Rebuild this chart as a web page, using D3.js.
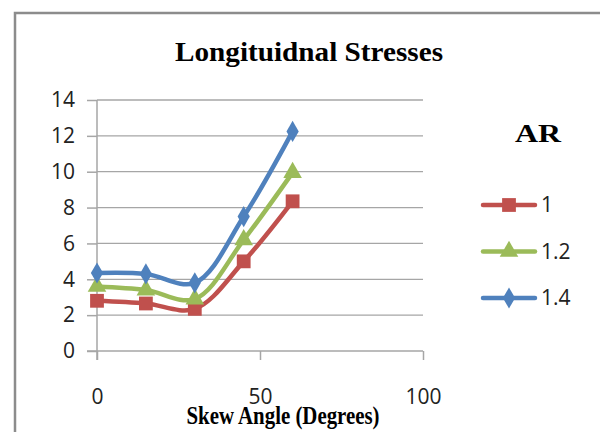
<!DOCTYPE html>
<html>
<head>
<meta charset="utf-8">
<script src="https://cdn.jsdelivr.net/npm/d3@7"></script>
<style>
body { margin: 0; background: #fff; }
svg { display: block; }
</style>
</head>
<body>
<svg id="chart" width="600" height="432"></svg>
<script>
// données
const angles = [0, 15, 30, 45, 60];
const ar1 = [2.8, 2.65, 2.35, 5.0, 8.35];
const ar12 = [3.6, 3.4, 2.9, 6.2, 9.95];
const ar14 = [4.35, 4.3, 3.8, 7.5, 12.25];
const xTicks = [0, 50, 100];
const yTicks = [0, 2, 4, 6, 8, 10, 12, 14];
const series = [
	{name: "1", values: ar1, color: "#C0504D", symbol: d3.symbolSquare, size: 190},
	{name: "1.2", values: ar12, color: "#9BBB59", symbol: d3.symbolTriangle, size: 150},
	{name: "1.4", values: ar14, color: "#4F81BD", symbol: d3.symbolDiamond, size: 130}
];

let svg = d3.select("#chart");
let margin = {left: 97, right: 177, top: 100, bottom: 81};
let x = d3.scaleLinear().domain([0, 100]).range([margin.left, 600 - margin.right]);
let y = d3.scaleLinear().domain([0, 14]).range([432 - margin.bottom, margin.top]);

// cadre
svg.append("path")
	.attr("d", "M15,440 V13 H610")
	.attr("fill", "none")
	.attr("stroke", "#8c8c8c")
	.attr("stroke-width", 2.5);

// titre
svg.append("text")
	.attr("x", 309).attr("y", 61)
	.attr("text-anchor", "middle")
	.attr("font-family", "Liberation Serif")
	.attr("font-weight", "bold")
	.attr("font-size", 27)
	.attr("textLength", 268)
	.attr("lengthAdjust", "spacingAndGlyphs")
	.text("Longituidnal Stresses");

// grille
svg.append("g")
	.selectAll("line")
	.data(yTicks.filter(d => d > 0))
	.join("line")
	.attr("x1", x(0)).attr("x2", x(100))
	.attr("y1", d => y(d)).attr("y2", d => y(d))
	.attr("stroke", "#a6a6a6")
	.attr("stroke-width", 1.3);

// axes
let ay = svg.append("g")
	.attr("transform", `translate(${x(0)},0)`)
	.call(d3.axisLeft(y).tickValues(yTicks).tickSize(10).tickPadding(12));
let ax = svg.append("g")
	.attr("transform", `translate(0,${y(0)})`)
	.call(d3.axisBottom(x).tickValues(xTicks).tickSize(9).tickPadding(29));
for (let a of [ax, ay]) {
	a.select(".domain").attr("stroke", "#a6a6a6").attr("stroke-width", 1.5);
	a.selectAll(".tick line").attr("stroke", "#a6a6a6").attr("stroke-width", 1.5);
	a.selectAll(".tick text")
		.attr("font-family", "Open Sans")
		.attr("font-size", 21)
		.attr("fill", "#222");
}
ay.select(".domain").attr("d", `M0,${y(14)}V${y(0) + 9}`);
ax.select(".domain").attr("d", `M${x(0) - 10},0H${x(100)}`);

// titre de l'axe x
svg.append("text")
	.attr("x", 283).attr("y", 424)
	.attr("text-anchor", "middle")
	.attr("font-family", "Liberation Serif")
	.attr("font-weight", "bold")
	.attr("font-size", 26)
	.attr("textLength", 193)
	.attr("lengthAdjust", "spacingAndGlyphs")
	.text("Skew Angle (Degrees)");

// courbes
let line = d3.line()
	.x((d, i) => x(angles[i]))
	.y(d => y(d))
	.curve(d3.curveCatmullRom.alpha(0.5));
for (let s of series) {
	svg.append("path")
		.attr("d", line(s.values))
		.attr("fill", "none")
		.attr("stroke", s.color)
		.attr("stroke-width", 4.5);
	svg.append("g")
		.selectAll("path")
		.data(s.values)
		.join("path")
		.attr("transform", (d, i) => `translate(${x(angles[i])},${y(d)})`)
		.attr("d", d3.symbol(s.symbol, s.size))
		.attr("fill", s.color);
}

// légende
svg.append("text")
	.attr("x", 538).attr("y", 142)
	.attr("text-anchor", "middle")
	.attr("font-family", "Liberation Serif")
	.attr("font-weight", "bold")
	.attr("font-size", 26)
	.attr("textLength", 46)
	.attr("lengthAdjust", "spacingAndGlyphs")
	.text("AR");
let leg = svg.append("g")
	.selectAll("g")
	.data(series)
	.join("g")
	.attr("transform", (d, i) => `translate(509,${205 + i * 46.5})`);
leg.append("line")
	.attr("x1", -26).attr("x2", 26)
	.attr("stroke", d => d.color)
	.attr("stroke-width", 4.5)
	.attr("stroke-linecap", "round");
leg.append("path")
	.attr("d", d => d3.symbol(d.symbol, d.size)())
	.attr("fill", d => d.color);
leg.append("text")
	.attr("x", 32).attr("dy", "0.35em")
	.attr("font-family", "Open Sans")
	.attr("font-size", 21)
	.attr("fill", "#222")
	.text(d => d.name);
</script>
</body>
</html>
